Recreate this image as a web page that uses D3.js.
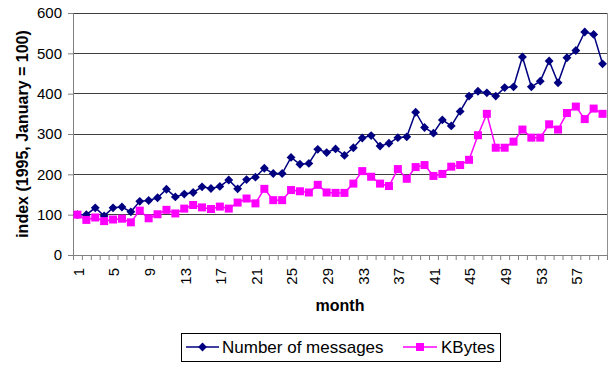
<!DOCTYPE html>
<html>
<head>
<meta charset="utf-8">
<script src="https://cdn.jsdelivr.net/npm/d3@7"></script>
<style>
  body { margin: 0; background: #fff; }
  svg { font-family: Arial, "Liberation Sans", sans-serif; }
</style>
</head>
<body>
<svg width="612" height="374"></svg>
<script>
// data
var months = d3.range(1, 61);
var messages = [100, 100, 117, 97, 117, 119, 107, 133, 135, 142,
  163, 144, 151, 155, 169, 165, 170, 186, 164, 187,
  193, 215, 202, 202, 242, 225, 227, 262, 254, 263,
  247, 266, 290, 296, 270, 277, 291, 293, 354, 316,
  302, 335, 320, 356, 394, 406, 402, 394, 415, 417,
  491, 417, 431, 481, 427, 489, 507, 553, 547, 474];
var kbytes = [100, 87, 93, 84, 88, 90, 81, 110, 91, 101,
  112, 103, 115, 124, 118, 114, 120, 115, 130, 140,
  128, 164, 136, 136, 161, 158, 155, 174, 155, 154,
  154, 177, 208, 194, 177, 171, 213, 189, 218, 223,
  196, 201, 219, 223, 236, 297, 350, 266, 266, 281,
  311, 291, 291, 324, 311, 352, 368, 337, 363, 350];
var yTicks = [0, 100, 200, 300, 400, 500, 600];
var xLabels = d3.range(1, 61, 4);

var svg = d3.select("svg");
var plotL = 73, plotR = 607, plotT = 13, plotB = 255;

var x = d3.scaleBand().domain(months).range([plotL, plotR]).padding(0);
var xb = d3.scaleLinear().domain([0.5, 60.5]).range([plotL, plotR]);
var y = d3.scaleLinear().domain([0, 600]).range([plotB, plotT]);

// gridlines
svg.append("g").selectAll("line")
  .data(yTicks.slice(1))
  .join("line")
  .attr("x1", plotL).attr("x2", plotR)
  .attr("y1", function(d) { return y(d); }).attr("y2", function(d) { return y(d); })
  .attr("stroke", "#404040").attr("stroke-width", 1)
  .attr("shape-rendering", "crispEdges");

// plot border (right side)
svg.append("line")
  .attr("x1", plotR).attr("x2", plotR).attr("y1", plotT).attr("y2", plotB)
  .attr("stroke", "#909090").attr("shape-rendering", "crispEdges");

// y axis
var yAxis = svg.append("g")
  .attr("transform", "translate(" + plotL + ",0)")
  .call(d3.axisLeft(y).tickValues(yTicks).tickSize(5).tickPadding(6));
yAxis.select(".domain").attr("stroke", "#808080");
yAxis.selectAll(".tick line").attr("stroke", "#808080");
yAxis.selectAll("text").attr("font-size", 15).attr("fill", "#000")
  .attr("font-family", "Arial, 'Liberation Sans', sans-serif");

// x axis: ticks at category boundaries
var xAxis = svg.append("g")
  .attr("transform", "translate(0," + plotB + ")")
  .call(d3.axisBottom(xb).tickValues(d3.range(0.5, 61, 1)).tickSize(5).tickFormat(""));
xAxis.select(".domain").attr("stroke", "#808080");
xAxis.selectAll(".tick line").attr("stroke", "#808080");

// x labels, rotated
svg.append("g").selectAll("text")
  .data(xLabels)
  .join("text")
  .attr("transform", function(d) {
    return "translate(" + (x(d) + x.bandwidth() / 2 + 1) + "," + (plotB + 13) + ") rotate(-90)";
  })
  .attr("text-anchor", "end")
  .attr("dy", "0.35em")
  .attr("font-size", 15)
  .text(function(d) { return d; });

// axis titles
svg.append("text")
  .attr("x", (plotL + plotR) / 2).attr("y", 311)
  .attr("text-anchor", "middle")
  .attr("font-size", 16).attr("font-weight", "bold")
  .text("month");

svg.append("text")
  .attr("transform", "translate(22," + ((plotT + plotB) / 2) + ") rotate(-90)")
  .attr("text-anchor", "middle")
  .attr("dy", "0.35em")
  .attr("font-size", 16).attr("font-weight", "bold")
  .text("index (1995, January = 100)");

// series
var cx = function(d, i) { return x(months[i]) + x.bandwidth() / 2; };
var line = d3.line().x(cx).y(function(d) { return y(d); });

var blue = "#000080", pink = "#FF00FF";

svg.append("path").datum(messages)
  .attr("d", line).attr("fill", "none")
  .attr("stroke", blue).attr("stroke-width", 1.5);
svg.append("g").selectAll("path")
  .data(messages)
  .join("path")
  .attr("d", d3.symbol().type(d3.symbolDiamond2).size(50))
  .attr("transform", function(d, i) { return "translate(" + cx(d, i) + "," + y(d) + ")"; })
  .attr("fill", blue);

svg.append("path").datum(kbytes)
  .attr("d", line).attr("fill", "none")
  .attr("stroke", pink).attr("stroke-width", 1.5);
svg.append("g").selectAll("rect")
  .data(kbytes)
  .join("rect")
  .attr("x", function(d, i) { return cx(d, i) - 4; })
  .attr("y", function(d) { return y(d) - 4; })
  .attr("width", 8).attr("height", 8)
  .attr("fill", pink);

// legend
var lg = svg.append("g").attr("transform", "translate(181,333)");
lg.append("rect").attr("width", 319).attr("height", 28)
  .attr("fill", "#fff").attr("stroke", "#000").attr("stroke-width", 1)
  .attr("shape-rendering", "crispEdges");
lg.append("line").attr("x1", 5).attr("x2", 38).attr("y1", 14).attr("y2", 14)
  .attr("stroke", blue).attr("stroke-width", 1.5);
lg.append("path").attr("d", d3.symbol().type(d3.symbolDiamond2).size(50))
  .attr("transform", "translate(21.5,14)").attr("fill", blue);
lg.append("text").attr("x", 41).attr("y", 14).attr("dy", "0.35em")
  .attr("font-size", 17).text("Number of messages");
lg.append("line").attr("x1", 222).attr("x2", 256).attr("y1", 14).attr("y2", 14)
  .attr("stroke", pink).attr("stroke-width", 1.5);
lg.append("rect").attr("x", 235).attr("y", 10).attr("width", 8).attr("height", 8)
  .attr("fill", pink);
lg.append("text").attr("x", 260).attr("y", 14).attr("dy", "0.35em")
  .attr("font-size", 17).text("KBytes");
</script>
</body>
</html>
